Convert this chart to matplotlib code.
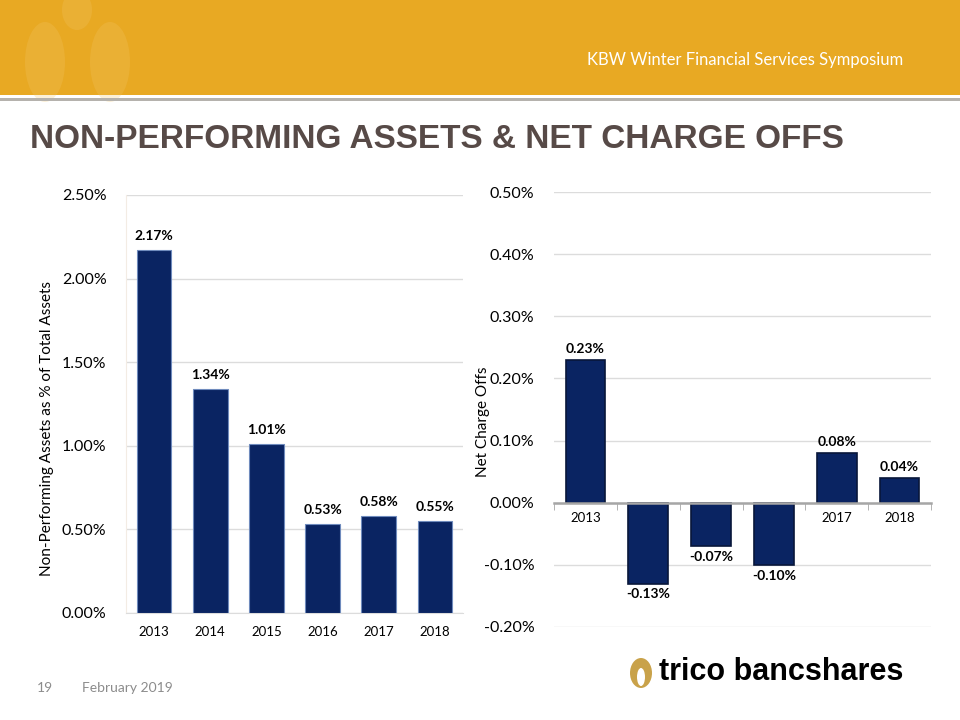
import matplotlib
matplotlib.use("Agg")
import matplotlib.pyplot as plt
from matplotlib.patches import Rectangle, Ellipse
from matplotlib.ticker import FuncFormatter

years = ["2013", "2014", "2015", "2016", "2017", "2018"]
npa_pct = [2.17, 1.34, 1.01, 0.53, 0.58, 0.55]
nco_pct = [0.23, -0.13, -0.07, -0.10, 0.08, 0.04]

NAVY = "#0a2462"
GOLD = "#e8a923"
TITLE_C = "#574a47"
BODY_FONT = ["Lato", "DejaVu Sans"]

fig = plt.figure(figsize=(9.6, 7.2), dpi=100)

# header band
fig.patches.append(Rectangle((0, 1 - 95 / 720), 1, 95 / 720, transform=fig.transFigure,
                             facecolor=GOLD, edgecolor="none", zorder=0))
# faint watermark of the logo
fig.patches.append(Ellipse((45 / 960, 1 - 62 / 720), 40 / 960, 80 / 720, transform=fig.transFigure,
                           facecolor="#f2c56a", edgecolor="none", alpha=0.25, zorder=0))
fig.patches.append(Ellipse((110 / 960, 1 - 62 / 720), 40 / 960, 80 / 720, transform=fig.transFigure,
                           facecolor="#f2c56a", edgecolor="none", alpha=0.25, zorder=0))
fig.patches.append(Ellipse((77 / 960, 1 - 10 / 720), 30 / 960, 40 / 720, transform=fig.transFigure,
                           facecolor="#f2c56a", edgecolor="none", alpha=0.25, zorder=0))
fig.patches.append(Rectangle((0, 1 - 101 / 720), 1, 3 / 720, transform=fig.transFigure,
                             facecolor="#b5b2ad", edgecolor="none", zorder=0))
fig.text(903 / 960, 1 - 60 / 720, "KBW Winter Financial Services Symposium", color="white",
         fontsize=12, ha="right", va="center", family=BODY_FONT)
fig.text(30 / 960, 1 - 139 / 720, "NON-PERFORMING ASSETS & NET CHARGE OFFS", color=TITLE_C,
         fontsize=24, fontweight="bold", ha="left", va="center",
         family=["Liberation Sans Narrow", "Liberation Sans", "DejaVu Sans"])

pct2 = FuncFormatter(lambda v, p: f"{v:.2f}%")

# left chart
ax1 = fig.add_axes([126 / 960, 1 - 613 / 720, 337 / 960, 418 / 720])
x = range(len(years))
ax1.bar(x, npa_pct, width=0.62, color=NAVY, edgecolor="#6f8bbd", linewidth=0.8, zorder=3)
for i, v in enumerate(npa_pct):
    ax1.text(i, v + 0.05, f"{v:.2f}%", ha="center", va="bottom", fontsize=10,
             fontweight="bold", family=BODY_FONT)
ax1.set_xlim(-0.5, 5.5)
ax1.set_ylim(0, 2.5)
ax1.set_yticks([0, 0.5, 1.0, 1.5, 2.0, 2.5])
ax1.yaxis.set_major_formatter(pct2)
ax1.set_xticks(list(x))
ax1.set_xticklabels(years)
ax1.grid(axis="y", color="#dcdcdc", linewidth=1, zorder=0)
for s in ["top", "right"]:
    ax1.spines[s].set_visible(False)
ax1.spines["left"].set_color("#f3ece4")
ax1.spines["bottom"].set_color("#dcdcdc")
ax1.tick_params(axis="both", length=0)
ax1.tick_params(axis="y", labelsize=11.5, pad=14)
ax1.tick_params(axis="x", labelsize=9.5, pad=9)
for lab in ax1.get_xticklabels() + ax1.get_yticklabels():
    lab.set_family(BODY_FONT)
ax1.set_ylabel("Non-Performing Assets as % of Total Assets", fontsize=11, family=BODY_FONT, labelpad=8)
ax1.yaxis.set_label_coords(-0.215, (613 - 428) / 418)

# right chart
ax2 = fig.add_axes([554 / 960, 1 - 627 / 720, 377 / 960, 435 / 720])
ax2.bar(x, nco_pct, width=0.63, color=NAVY, edgecolor="#08163a", linewidth=1.2, zorder=3)
for i, v in enumerate(nco_pct):
    if v >= 0:
        ax2.text(i, v + 0.008, f"{v:.2f}%", ha="center", va="bottom", fontsize=10,
                 fontweight="bold", family=BODY_FONT, zorder=5)
    else:
        ax2.text(i, v - 0.008, f"{v:.2f}%", ha="center", va="top", fontsize=10,
                 fontweight="bold", family=BODY_FONT, zorder=5)
ax2.set_xlim(-0.5, 5.5)
ax2.set_ylim(-0.2, 0.5)
ax2.set_yticks([-0.2, -0.1, 0.0, 0.1, 0.2, 0.3, 0.4, 0.5])
ax2.yaxis.set_major_formatter(pct2)
ax2.set_xticks(list(x))
ax2.set_xticklabels(years)
ax2.set_xticks([i - 0.5 for i in range(7)], minor=True)
ax2.grid(axis="y", color="#dcdcdc", linewidth=1, zorder=0)
for s in ["top", "right", "left"]:
    ax2.spines[s].set_visible(False)
ax2.spines["bottom"].set_position(("data", 0))
ax2.spines["bottom"].set_color("#a6a6a6")
ax2.spines["bottom"].set_linewidth(1.8)
ax2.spines["bottom"].set_zorder(4)
ax2.tick_params(axis="x", which="major", length=0, labelsize=9.5, pad=7)
ax2.tick_params(axis="x", which="minor", length=5, color="#a6a6a6", direction="out")
ax2.tick_params(axis="y", length=0, labelsize=11.5, pad=14)
for lab in ax2.get_xticklabels() + ax2.get_yticklabels():
    lab.set_family(BODY_FONT)
ax2.set_ylabel("Net Charge Offs", fontsize=11, family=BODY_FONT, labelpad=6)
ax2.yaxis.set_label_coords(-0.17, (627 - 422) / 435)

# footer
fig.text(37 / 960, 1 - 688 / 720, "19", color="#8c8c8c", fontsize=10, va="center", family=BODY_FONT)
fig.text(82 / 960, 1 - 688 / 720, "February 2019", color="#8c8c8c", fontsize=10, va="center",
         family=BODY_FONT)
fig.patches.append(Ellipse((641 / 960, 1 - 673 / 720), 22 / 960, 30 / 720, transform=fig.transFigure,
                           facecolor="#c9a24a", edgecolor="none", zorder=2))
fig.patches.append(Ellipse((641 / 960, 1 - 677 / 720), 8 / 960, 18 / 720, transform=fig.transFigure,
                           facecolor="white", edgecolor="none", zorder=3))
fig.text(903 / 960, 1 - 672 / 720, "trico bancshares", color="black", fontsize=22,
         fontweight="bold", ha="right", va="center",
         family=["Liberation Sans Narrow", "Liberation Sans", "DejaVu Sans"])

fig.savefig("out.png", dpi=100)
